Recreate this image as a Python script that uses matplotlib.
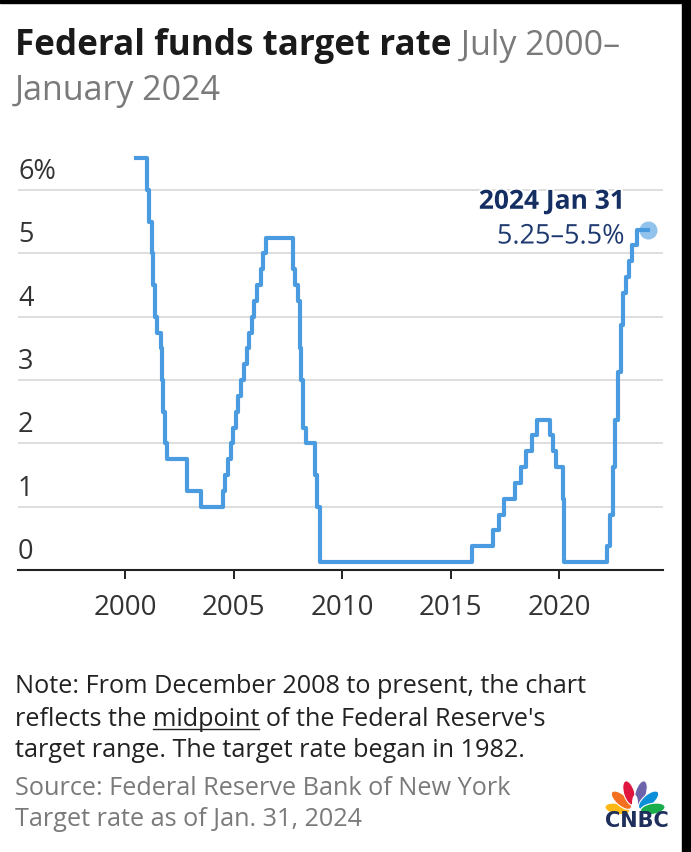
import matplotlib
matplotlib.use("Agg")
import math
import matplotlib.pyplot as plt
import matplotlib.patheffects as pe
from matplotlib.patches import Ellipse, Rectangle
import pandas as pd

# ---------------- data ----------------
change_dates = [
    "2000-07-01", "2001-01-03", "2001-01-31", "2001-03-20", "2001-04-18", "2001-05-15",
    "2001-06-27", "2001-08-21", "2001-09-17", "2001-10-02", "2001-11-06", "2001-12-11",
    "2002-11-06", "2003-06-25", "2004-06-30", "2004-08-10", "2004-09-21", "2004-11-10",
    "2004-12-14", "2005-02-02", "2005-03-22", "2005-05-03", "2005-06-30", "2005-08-09",
    "2005-09-20", "2005-11-01", "2005-12-13", "2006-01-31", "2006-03-28", "2006-05-10",
    "2006-06-29", "2007-09-18", "2007-10-31", "2007-12-11", "2008-01-22", "2008-01-30",
    "2008-03-18", "2008-04-30", "2008-10-08", "2008-10-29", "2008-12-16", "2015-12-17",
    "2016-12-15", "2017-03-16", "2017-06-15", "2017-12-14", "2018-03-22", "2018-06-14",
    "2018-09-27", "2018-12-20", "2019-08-01", "2019-09-19", "2019-10-31", "2020-03-04",
    "2020-03-16", "2022-03-17", "2022-05-05", "2022-06-16", "2022-07-28", "2022-09-22",
    "2022-11-03", "2022-12-15", "2023-02-02", "2023-03-23", "2023-05-04", "2023-07-27",
]
target_rates = [
    6.50, 6.00, 5.50, 5.00, 4.50, 4.00,
    3.75, 3.50, 3.00, 2.50, 2.00, 1.75,
    1.25, 1.00, 1.25, 1.50, 1.75, 2.00,
    2.25, 2.50, 2.75, 3.00, 3.25, 3.50,
    3.75, 4.00, 4.25, 4.50, 4.75, 5.00,
    5.25, 4.75, 4.50, 4.25, 3.50, 3.00,
    2.25, 2.00, 1.50, 1.00, 0.125, 0.375,
    0.625, 0.875, 1.125, 1.375, 1.625, 1.875,
    2.125, 2.375, 2.125, 1.875, 1.625, 1.125,
    0.125, 0.375, 0.875, 1.625, 2.375, 3.125,
    3.875, 4.375, 4.625, 4.875, 5.125, 5.375,
]
end_date = "2024-01-31"
end_label_date = "2024 Jan 31"
end_label_range = "5.25\u20135.5%"
x_ticks = [2000, 2005, 2010, 2015, 2020]
y_ticks = [0, 1, 2, 3, 4, 5, 6]
y_tick_labels = ["0", "1", "2", "3", "4", "5", "6%"]

title_bold = "Federal funds target rate"
title_light_1 = " July 2000\u2013"
title_light_2 = "January 2024"
note_lines = ["Note: From December 2008 to present, the chart",
              "reflects the midpoint of the Federal Reserve's",
              "target range. The target rate began in 1982."]
source_lines = ["Source: Federal Reserve Bank of New York",
                "Target rate as of Jan. 31, 2024"]

# ---------------- helpers ----------------
def to_year(d):
    t = pd.Timestamp(d)
    s = pd.Timestamp(year=t.year, month=1, day=1)
    e = pd.Timestamp(year=t.year + 1, month=1, day=1)
    return t.year + (t - s) / (e - s)

xs = [to_year(d) for d in change_dates] + [to_year(end_date)]
ys = target_rates + [target_rates[-1]]

FONT = ["Open Sans", "DejaVu Sans"]
plt.rcParams["font.family"] = FONT

W, H = 691, 852
fig = plt.figure(figsize=(W / 100, H / 100), dpi=100)
fig.patch.set_facecolor("white")
fig.canvas.draw()
R = fig.canvas.get_renderer()

def fx(px):
    return px / W

def fy(py):
    return 1 - py / H

def fit_factor(txt, target_px):
    w = txt.get_window_extent(R).width
    return target_px / w

# black frame edges as in the reference screenshot
fig.add_artist(Rectangle((fx(682), 0), 1 - fx(682), 1, transform=fig.transFigure,
                         color="black", zorder=10))
fig.add_artist(Rectangle((0, fy(3)), 1, 1 - fy(3), transform=fig.transFigure,
                         color="black", zorder=10))

# ---------------- main axes ----------------
ax_l, ax_r, ax_b, ax_t = 18, 663, 570, 145.7
ax = fig.add_axes([fx(ax_l), fy(ax_b), fx(ax_r) - fx(ax_l), fy(ax_t) - fy(ax_b)])
ax.set_xlim(1995.06, 2024.78)
ax.set_ylim(0, 6.7)

for s in ["top", "left", "right"]:
    ax.spines[s].set_visible(False)
ax.spines["bottom"].set_color("#222222")
ax.spines["bottom"].set_linewidth(1.5)

ax.set_yticks(y_ticks)
ax.set_yticklabels([])
ax.tick_params(axis="y", length=0)
ax.yaxis.grid(True, color="#d4d4d4", linewidth=1.1)
ax.set_axisbelow(True)

ax.set_xticks(x_ticks)
ax.set_xticklabels([str(t) for t in x_ticks])
ax.tick_params(axis="x", direction="out", length=6.5, width=1.4, color="#222222",
               labelsize=20, labelcolor="#333333", pad=10.5)

for v, lab in zip(y_ticks, y_tick_labels):
    ax.annotate(lab, xy=(0, v), xycoords=("axes fraction", "data"),
                xytext=(0, 8), textcoords="offset points",
                ha="left", va="baseline", fontsize=19.5, color="#333333")

line_color = "#4a9be0"
ax.step(xs, ys, where="post", color=line_color, linewidth=3.0, zorder=3)
ax.plot(xs[-1], ys[-1], "o", markersize=13, color=line_color, alpha=0.6,
        markeredgewidth=0, zorder=4)

stroke = [pe.withStroke(linewidth=3, foreground="white")]
ax.annotate(end_label_date, xy=(xs[-1], ys[-1]), xytext=(-16.5, 15),
            textcoords="offset points", ha="right", va="baseline",
            fontsize=19, fontweight="bold", color="#152f63", path_effects=stroke)
ax.annotate(end_label_range, xy=(xs[-1], ys[-1]), xytext=(-16.5, -10),
            textcoords="offset points", ha="right", va="baseline",
            fontsize=19.5, color="#1f3a70", path_effects=stroke)

# ---------------- titles ----------------
TITLE_FS = 22
t1 = fig.text(fx(15), fy(55), title_bold, fontsize=TITLE_FS, fontweight="bold",
              color="#1a1a1a", va="baseline", ha="left")
k = fit_factor(t1, 435)
TITLE_FS *= k
t1.set_fontsize(TITLE_FS)
bb = t1.get_window_extent(R)
fig.text(bb.x1 / W, fy(55), title_light_1, fontsize=TITLE_FS * 0.97, color="#7a7a7a",
         va="baseline", ha="left")
fig.text(fx(15), fy(100), title_light_2, fontsize=TITLE_FS * 0.97, color="#7a7a7a",
         va="baseline", ha="left")

# ---------------- notes ----------------
NOTE_FS = 16.5
probe = fig.text(fx(15), fy(693), note_lines[0], fontsize=NOTE_FS, alpha=0)
NOTE_FS *= fit_factor(probe, 573)
probe.remove()
note_base = [693, 726, 757]
for ln, yb in zip(note_lines, note_base):
    fig.text(fx(15), fy(yb), ln, fontsize=NOTE_FS, color="#222222",
             va="baseline", ha="left")
# underline "midpoint"
prefix = fig.text(fx(15), fy(726), "reflects the midpoint", fontsize=NOTE_FS,
                  va="baseline", ha="left", alpha=0)
word = fig.text(fx(15), fy(726), "midpoint", fontsize=NOTE_FS,
                va="baseline", ha="left", alpha=0)
pb = prefix.get_window_extent(R)
wb = word.get_window_extent(R)
x_end = pb.x1
x_start = pb.x1 - wb.width
fig.add_artist(plt.Line2D([x_start / W, x_end / W], [fy(728.5), fy(728.5)],
                          transform=fig.transFigure, color="#222222", linewidth=1.0))

for ln, yb in zip(source_lines, [795, 826]):
    fig.text(fx(15), fy(yb), ln, fontsize=NOTE_FS, color="#7a7a7a",
             va="baseline", ha="left")

# ---------------- CNBC logo ----------------
lax = fig.add_axes([fx(598), fy(835), fx(674) - fx(598), fy(772) - fy(835)])
lax.set_xlim(598, 674)
lax.set_ylim(H - 835, H - 772)
lax.set_aspect("equal")
lax.axis("off")
pivot = (635, H - 812)
feathers = [("#fdb913", 170), ("#f37021", 139), ("#e0163e", 107),
            ("#6c63ab", 73), ("#0a8fd8", 41), ("#1aad4b", 10)]
for col, ang in feathers:
    rr = 20 if 60 < ang < 120 else 18
    cx = pivot[0] + rr * math.cos(math.radians(ang))
    cy = pivot[1] + rr * math.sin(math.radians(ang))
    lax.add_patch(Ellipse((cx, cy), 25, 11, angle=ang, facecolor=col,
                          edgecolor="white", linewidth=0.8))
lax.add_patch(Ellipse((pivot[0], pivot[1] + 9), 6, 16, color="white", linewidth=0))
fig.text(fx(636.5), fy(827), "CNBC", fontsize=15, fontweight="bold", color="#1f2f5c",
         ha="center", va="baseline", family=["DejaVu Sans"])

fig.savefig("out.png", dpi=100, facecolor="white")
